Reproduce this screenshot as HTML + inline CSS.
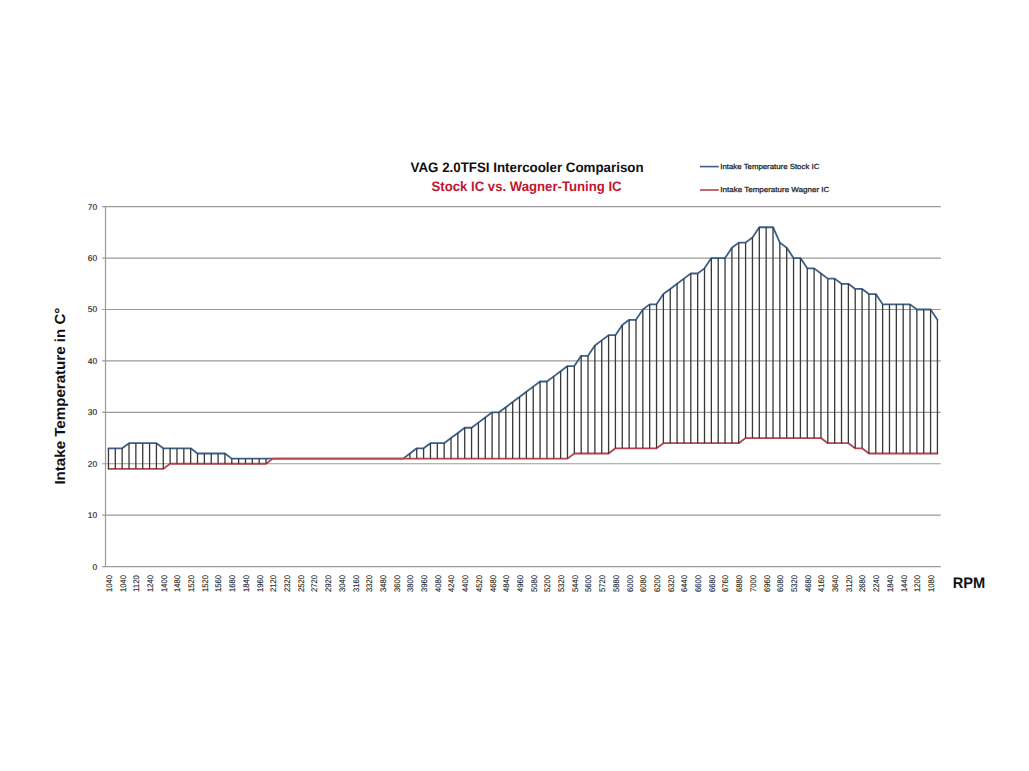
<!DOCTYPE html>
<html><head><meta charset="utf-8"><style>
html,body{margin:0;padding:0;background:#fff;}
body{width:1029px;height:771px;overflow:hidden;}
svg{display:block;font-family:"Liberation Sans", sans-serif;text-rendering:geometricPrecision;}
</style></head><body>
<svg width="1029" height="771" viewBox="0 0 1029 771">
<line x1="102.20" y1="515.18" x2="940.80" y2="515.18" stroke="#9A9A9A" stroke-width="1.2"/>
<line x1="102.20" y1="463.76" x2="940.80" y2="463.76" stroke="#9A9A9A" stroke-width="1.2"/>
<line x1="102.20" y1="412.34" x2="940.80" y2="412.34" stroke="#9A9A9A" stroke-width="1.2"/>
<line x1="102.20" y1="360.92" x2="940.80" y2="360.92" stroke="#9A9A9A" stroke-width="1.2"/>
<line x1="102.20" y1="309.50" x2="940.80" y2="309.50" stroke="#9A9A9A" stroke-width="1.2"/>
<line x1="102.20" y1="258.08" x2="940.80" y2="258.08" stroke="#9A9A9A" stroke-width="1.2"/>
<line x1="102.20" y1="206.66" x2="940.80" y2="206.66" stroke="#9A9A9A" stroke-width="1.2"/>
<line x1="105.50" y1="206.06" x2="105.50" y2="566.60" stroke="#9A9A9A" stroke-width="1.2"/>
<line x1="102.20" y1="566.60" x2="940.80" y2="566.60" stroke="#9A9A9A" stroke-width="1.2"/>
<polyline points="108.46,448.33 115.31,448.33 122.16,448.33 129.01,443.19 135.86,443.19 142.72,443.19 149.57,443.19 156.42,443.19 163.27,448.33 170.12,448.33 176.97,448.33 183.82,448.33 190.67,448.33 197.52,453.48 204.37,453.48 211.22,453.48 218.08,453.48 224.93,453.48 231.78,458.62 238.63,458.62 245.48,458.62 252.33,458.62 259.18,458.62 266.03,458.62 272.88,458.62 279.74,458.62 286.59,458.62 293.44,458.62 300.29,458.62 307.14,458.62 313.99,458.62 320.84,458.62 327.69,458.62 334.54,458.62 341.39,458.62 348.25,458.62 355.10,458.62 361.95,458.62 368.80,458.62 375.65,458.62 382.50,458.62 389.35,458.62 396.20,458.62 403.05,458.62 409.90,453.48 416.75,448.33 423.61,448.33 430.46,443.19 437.31,443.19 444.16,443.19 451.01,438.05 457.86,432.91 464.71,427.77 471.56,427.77 478.41,422.62 485.26,417.48 492.12,412.34 498.97,412.34 505.82,407.20 512.67,402.06 519.52,396.91 526.37,391.77 533.22,386.63 540.07,381.49 546.92,381.49 553.77,376.35 560.63,371.20 567.48,366.06 574.33,366.06 581.18,355.78 588.03,355.78 594.88,345.49 601.73,340.35 608.58,335.21 615.43,335.21 622.29,324.93 629.14,319.78 635.99,319.78 642.84,309.50 649.69,304.36 656.54,304.36 663.39,294.07 670.24,288.93 677.09,283.79 683.94,278.65 690.80,273.51 697.65,273.51 704.50,268.36 711.35,258.08 718.20,258.08 725.05,258.08 731.90,247.80 738.75,242.65 745.60,242.65 752.45,237.51 759.31,227.23 766.16,227.23 773.01,227.23 779.86,242.65 786.71,247.80 793.56,258.08 800.41,258.08 807.26,268.36 814.11,268.36 820.96,273.51 827.82,278.65 834.67,278.65 841.52,283.79 848.37,283.79 855.22,288.93 862.07,288.93 868.92,294.07 875.77,294.07 882.62,304.36 889.47,304.36 896.33,304.36 903.18,304.36 910.03,304.36 916.88,309.50 923.73,309.50 930.58,309.50 937.43,319.78" fill="none" stroke="#3D5F86" stroke-width="1.8" stroke-linejoin="round" stroke-linecap="round"/>
<polyline points="108.46,468.90 115.31,468.90 122.16,468.90 129.01,468.90 135.86,468.90 142.72,468.90 149.57,468.90 156.42,468.90 163.27,468.90 170.12,463.76 176.97,463.76 183.82,463.76 190.67,463.76 197.52,463.76 204.37,463.76 211.22,463.76 218.08,463.76 224.93,463.76 231.78,463.76 238.63,463.76 245.48,463.76 252.33,463.76 259.18,463.76 266.03,463.76 272.88,458.62 279.74,458.62 286.59,458.62 293.44,458.62 300.29,458.62 307.14,458.62 313.99,458.62 320.84,458.62 327.69,458.62 334.54,458.62 341.39,458.62 348.25,458.62 355.10,458.62 361.95,458.62 368.80,458.62 375.65,458.62 382.50,458.62 389.35,458.62 396.20,458.62 403.05,458.62 409.90,458.62 416.75,458.62 423.61,458.62 430.46,458.62 437.31,458.62 444.16,458.62 451.01,458.62 457.86,458.62 464.71,458.62 471.56,458.62 478.41,458.62 485.26,458.62 492.12,458.62 498.97,458.62 505.82,458.62 512.67,458.62 519.52,458.62 526.37,458.62 533.22,458.62 540.07,458.62 546.92,458.62 553.77,458.62 560.63,458.62 567.48,458.62 574.33,453.48 581.18,453.48 588.03,453.48 594.88,453.48 601.73,453.48 608.58,453.48 615.43,448.33 622.29,448.33 629.14,448.33 635.99,448.33 642.84,448.33 649.69,448.33 656.54,448.33 663.39,443.19 670.24,443.19 677.09,443.19 683.94,443.19 690.80,443.19 697.65,443.19 704.50,443.19 711.35,443.19 718.20,443.19 725.05,443.19 731.90,443.19 738.75,443.19 745.60,438.05 752.45,438.05 759.31,438.05 766.16,438.05 773.01,438.05 779.86,438.05 786.71,438.05 793.56,438.05 800.41,438.05 807.26,438.05 814.11,438.05 820.96,438.05 827.82,443.19 834.67,443.19 841.52,443.19 848.37,443.19 855.22,448.33 862.07,448.33 868.92,453.48 875.77,453.48 882.62,453.48 889.47,453.48 896.33,453.48 903.18,453.48 910.03,453.48 916.88,453.48 923.73,453.48 930.58,453.48 937.43,453.48" fill="none" stroke="#B8434F" stroke-width="1.8" stroke-linejoin="round" stroke-linecap="round"/>
<path d="M108.46 448.33V468.90M115.31 448.33V468.90M122.16 448.33V468.90M129.01 443.19V468.90M135.86 443.19V468.90M142.72 443.19V468.90M149.57 443.19V468.90M156.42 443.19V468.90M163.27 448.33V468.90M170.12 448.33V463.76M176.97 448.33V463.76M183.82 448.33V463.76M190.67 448.33V463.76M197.52 453.48V463.76M204.37 453.48V463.76M211.22 453.48V463.76M218.08 453.48V463.76M224.93 453.48V463.76M231.78 458.62V463.76M238.63 458.62V463.76M245.48 458.62V463.76M252.33 458.62V463.76M259.18 458.62V463.76M266.03 458.62V463.76M409.90 453.48V458.62M416.75 448.33V458.62M423.61 448.33V458.62M430.46 443.19V458.62M437.31 443.19V458.62M444.16 443.19V458.62M451.01 438.05V458.62M457.86 432.91V458.62M464.71 427.77V458.62M471.56 427.77V458.62M478.41 422.62V458.62M485.26 417.48V458.62M492.12 412.34V458.62M498.97 412.34V458.62M505.82 407.20V458.62M512.67 402.06V458.62M519.52 396.91V458.62M526.37 391.77V458.62M533.22 386.63V458.62M540.07 381.49V458.62M546.92 381.49V458.62M553.77 376.35V458.62M560.63 371.20V458.62M567.48 366.06V458.62M574.33 366.06V453.48M581.18 355.78V453.48M588.03 355.78V453.48M594.88 345.49V453.48M601.73 340.35V453.48M608.58 335.21V453.48M615.43 335.21V448.33M622.29 324.93V448.33M629.14 319.78V448.33M635.99 319.78V448.33M642.84 309.50V448.33M649.69 304.36V448.33M656.54 304.36V448.33M663.39 294.07V443.19M670.24 288.93V443.19M677.09 283.79V443.19M683.94 278.65V443.19M690.80 273.51V443.19M697.65 273.51V443.19M704.50 268.36V443.19M711.35 258.08V443.19M718.20 258.08V443.19M725.05 258.08V443.19M731.90 247.80V443.19M738.75 242.65V443.19M745.60 242.65V438.05M752.45 237.51V438.05M759.31 227.23V438.05M766.16 227.23V438.05M773.01 227.23V438.05M779.86 242.65V438.05M786.71 247.80V438.05M793.56 258.08V438.05M800.41 258.08V438.05M807.26 268.36V438.05M814.11 268.36V438.05M820.96 273.51V438.05M827.82 278.65V443.19M834.67 278.65V443.19M841.52 283.79V443.19M848.37 283.79V443.19M855.22 288.93V448.33M862.07 288.93V448.33M868.92 294.07V453.48M875.77 294.07V453.48M882.62 304.36V453.48M889.47 304.36V453.48M896.33 304.36V453.48M903.18 304.36V453.48M910.03 304.36V453.48M916.88 309.50V453.48M923.73 309.50V453.48M930.58 309.50V453.48M937.43 319.78V453.48" stroke="#383838" stroke-width="1.3" fill="none"/>
<text x="97.2" y="569.50" text-anchor="end" font-size="8.4" fill="#222" stroke="#222" stroke-width="0.15">0</text>
<text x="97.2" y="518.08" text-anchor="end" font-size="8.4" fill="#222" stroke="#222" stroke-width="0.15">10</text>
<text x="97.2" y="466.66" text-anchor="end" font-size="8.4" fill="#222" stroke="#222" stroke-width="0.15">20</text>
<text x="97.2" y="415.24" text-anchor="end" font-size="8.4" fill="#222" stroke="#222" stroke-width="0.15">30</text>
<text x="97.2" y="363.82" text-anchor="end" font-size="8.4" fill="#222" stroke="#222" stroke-width="0.15">40</text>
<text x="97.2" y="312.40" text-anchor="end" font-size="8.4" fill="#222" stroke="#222" stroke-width="0.15">50</text>
<text x="97.2" y="260.98" text-anchor="end" font-size="8.4" fill="#222" stroke="#222" stroke-width="0.15">60</text>
<text x="97.2" y="209.56" text-anchor="end" font-size="8.4" fill="#222" stroke="#222" stroke-width="0.15">70</text>
<text transform="translate(111.86,592) rotate(-90)" font-size="8.2" fill="#222" stroke="#222" stroke-width="0.12" textLength="17" lengthAdjust="spacingAndGlyphs">1040</text>
<text transform="translate(125.56,592) rotate(-90)" font-size="8.2" fill="#222" stroke="#222" stroke-width="0.12" textLength="17" lengthAdjust="spacingAndGlyphs">1040</text>
<text transform="translate(139.26,592) rotate(-90)" font-size="8.2" fill="#222" stroke="#222" stroke-width="0.12" textLength="17" lengthAdjust="spacingAndGlyphs">1120</text>
<text transform="translate(152.97,592) rotate(-90)" font-size="8.2" fill="#222" stroke="#222" stroke-width="0.12" textLength="17" lengthAdjust="spacingAndGlyphs">1240</text>
<text transform="translate(166.67,592) rotate(-90)" font-size="8.2" fill="#222" stroke="#222" stroke-width="0.12" textLength="17" lengthAdjust="spacingAndGlyphs">1400</text>
<text transform="translate(180.37,592) rotate(-90)" font-size="8.2" fill="#222" stroke="#222" stroke-width="0.12" textLength="17" lengthAdjust="spacingAndGlyphs">1480</text>
<text transform="translate(194.07,592) rotate(-90)" font-size="8.2" fill="#222" stroke="#222" stroke-width="0.12" textLength="17" lengthAdjust="spacingAndGlyphs">1520</text>
<text transform="translate(207.77,592) rotate(-90)" font-size="8.2" fill="#222" stroke="#222" stroke-width="0.12" textLength="17" lengthAdjust="spacingAndGlyphs">1520</text>
<text transform="translate(221.48,592) rotate(-90)" font-size="8.2" fill="#222" stroke="#222" stroke-width="0.12" textLength="17" lengthAdjust="spacingAndGlyphs">1560</text>
<text transform="translate(235.18,592) rotate(-90)" font-size="8.2" fill="#222" stroke="#222" stroke-width="0.12" textLength="17" lengthAdjust="spacingAndGlyphs">1680</text>
<text transform="translate(248.88,592) rotate(-90)" font-size="8.2" fill="#222" stroke="#222" stroke-width="0.12" textLength="17" lengthAdjust="spacingAndGlyphs">1840</text>
<text transform="translate(262.58,592) rotate(-90)" font-size="8.2" fill="#222" stroke="#222" stroke-width="0.12" textLength="17" lengthAdjust="spacingAndGlyphs">1960</text>
<text transform="translate(276.28,592) rotate(-90)" font-size="8.2" fill="#222" stroke="#222" stroke-width="0.12" textLength="17" lengthAdjust="spacingAndGlyphs">2120</text>
<text transform="translate(289.99,592) rotate(-90)" font-size="8.2" fill="#222" stroke="#222" stroke-width="0.12" textLength="17" lengthAdjust="spacingAndGlyphs">2320</text>
<text transform="translate(303.69,592) rotate(-90)" font-size="8.2" fill="#222" stroke="#222" stroke-width="0.12" textLength="17" lengthAdjust="spacingAndGlyphs">2520</text>
<text transform="translate(317.39,592) rotate(-90)" font-size="8.2" fill="#222" stroke="#222" stroke-width="0.12" textLength="17" lengthAdjust="spacingAndGlyphs">2720</text>
<text transform="translate(331.09,592) rotate(-90)" font-size="8.2" fill="#222" stroke="#222" stroke-width="0.12" textLength="17" lengthAdjust="spacingAndGlyphs">2920</text>
<text transform="translate(344.79,592) rotate(-90)" font-size="8.2" fill="#222" stroke="#222" stroke-width="0.12" textLength="17" lengthAdjust="spacingAndGlyphs">3040</text>
<text transform="translate(358.50,592) rotate(-90)" font-size="8.2" fill="#222" stroke="#222" stroke-width="0.12" textLength="17" lengthAdjust="spacingAndGlyphs">3160</text>
<text transform="translate(372.20,592) rotate(-90)" font-size="8.2" fill="#222" stroke="#222" stroke-width="0.12" textLength="17" lengthAdjust="spacingAndGlyphs">3320</text>
<text transform="translate(385.90,592) rotate(-90)" font-size="8.2" fill="#222" stroke="#222" stroke-width="0.12" textLength="17" lengthAdjust="spacingAndGlyphs">3480</text>
<text transform="translate(399.60,592) rotate(-90)" font-size="8.2" fill="#222" stroke="#222" stroke-width="0.12" textLength="17" lengthAdjust="spacingAndGlyphs">3600</text>
<text transform="translate(413.30,592) rotate(-90)" font-size="8.2" fill="#222" stroke="#222" stroke-width="0.12" textLength="17" lengthAdjust="spacingAndGlyphs">3800</text>
<text transform="translate(427.01,592) rotate(-90)" font-size="8.2" fill="#222" stroke="#222" stroke-width="0.12" textLength="17" lengthAdjust="spacingAndGlyphs">3960</text>
<text transform="translate(440.71,592) rotate(-90)" font-size="8.2" fill="#222" stroke="#222" stroke-width="0.12" textLength="17" lengthAdjust="spacingAndGlyphs">4080</text>
<text transform="translate(454.41,592) rotate(-90)" font-size="8.2" fill="#222" stroke="#222" stroke-width="0.12" textLength="17" lengthAdjust="spacingAndGlyphs">4240</text>
<text transform="translate(468.11,592) rotate(-90)" font-size="8.2" fill="#222" stroke="#222" stroke-width="0.12" textLength="17" lengthAdjust="spacingAndGlyphs">4400</text>
<text transform="translate(481.81,592) rotate(-90)" font-size="8.2" fill="#222" stroke="#222" stroke-width="0.12" textLength="17" lengthAdjust="spacingAndGlyphs">4520</text>
<text transform="translate(495.52,592) rotate(-90)" font-size="8.2" fill="#222" stroke="#222" stroke-width="0.12" textLength="17" lengthAdjust="spacingAndGlyphs">4680</text>
<text transform="translate(509.22,592) rotate(-90)" font-size="8.2" fill="#222" stroke="#222" stroke-width="0.12" textLength="17" lengthAdjust="spacingAndGlyphs">4840</text>
<text transform="translate(522.92,592) rotate(-90)" font-size="8.2" fill="#222" stroke="#222" stroke-width="0.12" textLength="17" lengthAdjust="spacingAndGlyphs">4960</text>
<text transform="translate(536.62,592) rotate(-90)" font-size="8.2" fill="#222" stroke="#222" stroke-width="0.12" textLength="17" lengthAdjust="spacingAndGlyphs">5080</text>
<text transform="translate(550.32,592) rotate(-90)" font-size="8.2" fill="#222" stroke="#222" stroke-width="0.12" textLength="17" lengthAdjust="spacingAndGlyphs">5200</text>
<text transform="translate(564.03,592) rotate(-90)" font-size="8.2" fill="#222" stroke="#222" stroke-width="0.12" textLength="17" lengthAdjust="spacingAndGlyphs">5320</text>
<text transform="translate(577.73,592) rotate(-90)" font-size="8.2" fill="#222" stroke="#222" stroke-width="0.12" textLength="17" lengthAdjust="spacingAndGlyphs">5440</text>
<text transform="translate(591.43,592) rotate(-90)" font-size="8.2" fill="#222" stroke="#222" stroke-width="0.12" textLength="17" lengthAdjust="spacingAndGlyphs">5600</text>
<text transform="translate(605.13,592) rotate(-90)" font-size="8.2" fill="#222" stroke="#222" stroke-width="0.12" textLength="17" lengthAdjust="spacingAndGlyphs">5720</text>
<text transform="translate(618.83,592) rotate(-90)" font-size="8.2" fill="#222" stroke="#222" stroke-width="0.12" textLength="17" lengthAdjust="spacingAndGlyphs">5880</text>
<text transform="translate(632.54,592) rotate(-90)" font-size="8.2" fill="#222" stroke="#222" stroke-width="0.12" textLength="17" lengthAdjust="spacingAndGlyphs">6000</text>
<text transform="translate(646.24,592) rotate(-90)" font-size="8.2" fill="#222" stroke="#222" stroke-width="0.12" textLength="17" lengthAdjust="spacingAndGlyphs">6080</text>
<text transform="translate(659.94,592) rotate(-90)" font-size="8.2" fill="#222" stroke="#222" stroke-width="0.12" textLength="17" lengthAdjust="spacingAndGlyphs">6200</text>
<text transform="translate(673.64,592) rotate(-90)" font-size="8.2" fill="#222" stroke="#222" stroke-width="0.12" textLength="17" lengthAdjust="spacingAndGlyphs">6320</text>
<text transform="translate(687.34,592) rotate(-90)" font-size="8.2" fill="#222" stroke="#222" stroke-width="0.12" textLength="17" lengthAdjust="spacingAndGlyphs">6440</text>
<text transform="translate(701.05,592) rotate(-90)" font-size="8.2" fill="#222" stroke="#222" stroke-width="0.12" textLength="17" lengthAdjust="spacingAndGlyphs">6600</text>
<text transform="translate(714.75,592) rotate(-90)" font-size="8.2" fill="#222" stroke="#222" stroke-width="0.12" textLength="17" lengthAdjust="spacingAndGlyphs">6680</text>
<text transform="translate(728.45,592) rotate(-90)" font-size="8.2" fill="#222" stroke="#222" stroke-width="0.12" textLength="17" lengthAdjust="spacingAndGlyphs">6760</text>
<text transform="translate(742.15,592) rotate(-90)" font-size="8.2" fill="#222" stroke="#222" stroke-width="0.12" textLength="17" lengthAdjust="spacingAndGlyphs">6880</text>
<text transform="translate(755.85,592) rotate(-90)" font-size="8.2" fill="#222" stroke="#222" stroke-width="0.12" textLength="17" lengthAdjust="spacingAndGlyphs">7000</text>
<text transform="translate(769.56,592) rotate(-90)" font-size="8.2" fill="#222" stroke="#222" stroke-width="0.12" textLength="17" lengthAdjust="spacingAndGlyphs">6960</text>
<text transform="translate(783.26,592) rotate(-90)" font-size="8.2" fill="#222" stroke="#222" stroke-width="0.12" textLength="17" lengthAdjust="spacingAndGlyphs">6080</text>
<text transform="translate(796.96,592) rotate(-90)" font-size="8.2" fill="#222" stroke="#222" stroke-width="0.12" textLength="17" lengthAdjust="spacingAndGlyphs">5320</text>
<text transform="translate(810.66,592) rotate(-90)" font-size="8.2" fill="#222" stroke="#222" stroke-width="0.12" textLength="17" lengthAdjust="spacingAndGlyphs">4680</text>
<text transform="translate(824.36,592) rotate(-90)" font-size="8.2" fill="#222" stroke="#222" stroke-width="0.12" textLength="17" lengthAdjust="spacingAndGlyphs">4160</text>
<text transform="translate(838.07,592) rotate(-90)" font-size="8.2" fill="#222" stroke="#222" stroke-width="0.12" textLength="17" lengthAdjust="spacingAndGlyphs">3640</text>
<text transform="translate(851.77,592) rotate(-90)" font-size="8.2" fill="#222" stroke="#222" stroke-width="0.12" textLength="17" lengthAdjust="spacingAndGlyphs">3120</text>
<text transform="translate(865.47,592) rotate(-90)" font-size="8.2" fill="#222" stroke="#222" stroke-width="0.12" textLength="17" lengthAdjust="spacingAndGlyphs">2680</text>
<text transform="translate(879.17,592) rotate(-90)" font-size="8.2" fill="#222" stroke="#222" stroke-width="0.12" textLength="17" lengthAdjust="spacingAndGlyphs">2240</text>
<text transform="translate(892.87,592) rotate(-90)" font-size="8.2" fill="#222" stroke="#222" stroke-width="0.12" textLength="17" lengthAdjust="spacingAndGlyphs">1840</text>
<text transform="translate(906.58,592) rotate(-90)" font-size="8.2" fill="#222" stroke="#222" stroke-width="0.12" textLength="17" lengthAdjust="spacingAndGlyphs">1440</text>
<text transform="translate(920.28,592) rotate(-90)" font-size="8.2" fill="#222" stroke="#222" stroke-width="0.12" textLength="17" lengthAdjust="spacingAndGlyphs">1200</text>
<text transform="translate(933.98,592) rotate(-90)" font-size="8.2" fill="#222" stroke="#222" stroke-width="0.12" textLength="17" lengthAdjust="spacingAndGlyphs">1080</text>
<text x="410.6" y="172.2" font-size="13.7" font-weight="bold" fill="#111" textLength="233" lengthAdjust="spacingAndGlyphs">VAG 2.0TFSI Intercooler Comparison</text>
<text x="431.6" y="191.1" font-size="13.7" font-weight="bold" fill="#C01530" textLength="190" lengthAdjust="spacingAndGlyphs">Stock IC vs. Wagner-Tuning IC</text>
<line x1="700" y1="166.6" x2="718.8" y2="166.6" stroke="#3D5F86" stroke-width="1.6"/>
<text x="720.3" y="169" font-size="7.4" fill="#222" stroke="#222" stroke-width="0.25" textLength="99" lengthAdjust="spacingAndGlyphs">Intake Temperature Stock IC</text>
<line x1="700" y1="190" x2="718.8" y2="190" stroke="#B8434F" stroke-width="1.6"/>
<text x="720.3" y="192.3" font-size="7.4" fill="#222" stroke="#222" stroke-width="0.25" textLength="109" lengthAdjust="spacingAndGlyphs">Intake Temperature Wagner IC</text>
<text transform="translate(64.9,484.6) rotate(-90)" font-size="14.6" font-weight="bold" fill="#111" textLength="177" lengthAdjust="spacingAndGlyphs">Intake Temperature in C°</text>
<text x="952.7" y="587.8" font-size="15.3" font-weight="bold" fill="#111" textLength="32.5" lengthAdjust="spacingAndGlyphs">RPM</text>
</svg>
</body></html>
